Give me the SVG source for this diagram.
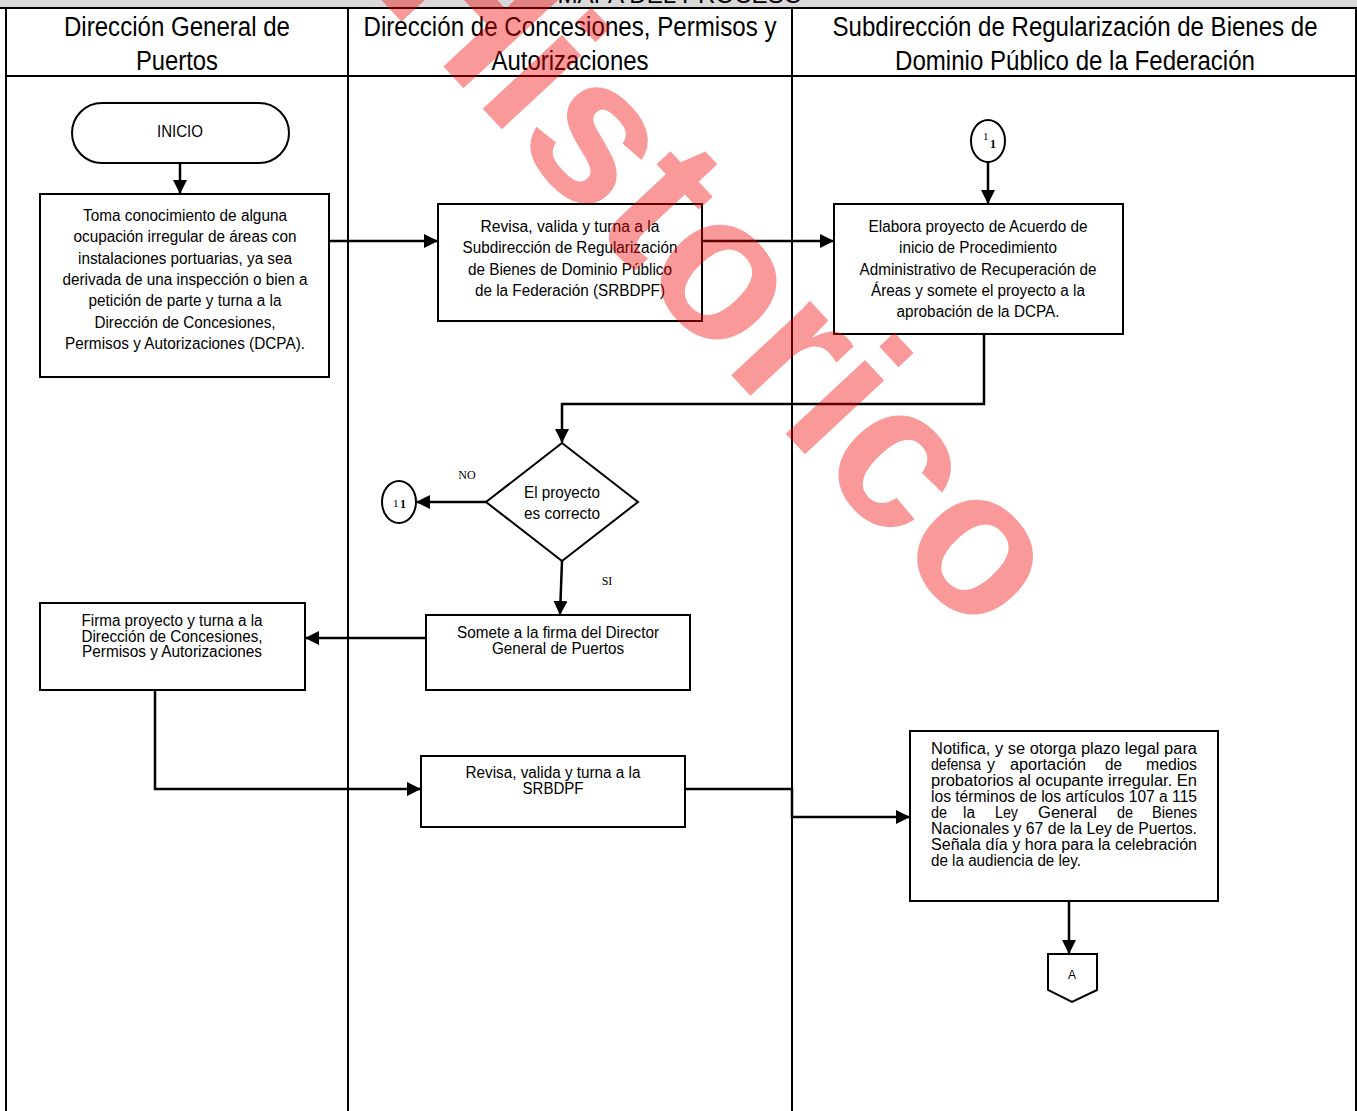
<svg xmlns="http://www.w3.org/2000/svg" width="1357" height="1111" viewBox="0 0 1357 1111">
<defs>
<marker id="arr" markerUnits="userSpaceOnUse" markerWidth="14" markerHeight="14" refX="13" refY="7" orient="auto">
<path d="M0,0 L14,7 L0,14 z" fill="#000"/>
</marker>
<style>
.frame{fill:none;stroke:#000;stroke-width:2}
.box{fill:#fff;stroke:#000;stroke-width:2}
.ln{fill:none;stroke:#000;stroke-width:2.5}
.hd{font-family:"Liberation Sans",Arial,sans-serif;font-size:27px;fill:#000;text-anchor:middle}
.t{font-family:"Liberation Sans",Arial,sans-serif;font-size:16px;fill:#000;text-anchor:middle}
.tl{font-family:"Liberation Sans",Arial,sans-serif;font-size:16px;fill:#000}
.sf{font-family:"Liberation Serif","Times New Roman",serif;fill:#000}
.wm{font-family:"Liberation Sans",Arial,sans-serif;font-weight:bold;font-size:205px;fill:#f00000;fill-opacity:0.4}
</style>
</defs>
<rect x="0" y="0" width="1357" height="1111" fill="#fff"/>
<g id="header">
<rect x="0" y="0" width="1357" height="8" fill="#d9d9d9"/>
<text class="hd" x="680" y="3" style="font-size:24px" textLength="245" lengthAdjust="spacingAndGlyphs">MAPA DEL PROCESO</text>
<line class="frame" x1="0" y1="8" x2="1357" y2="8"/>
<line class="frame" x1="6" y1="76" x2="1357" y2="76"/>
<line class="frame" x1="6" y1="8" x2="6" y2="1111"/>
<line class="frame" x1="348" y1="8" x2="348" y2="1111"/>
<line class="frame" x1="792" y1="8" x2="792" y2="1111"/>
<line class="frame" x1="1356" y1="8" x2="1356" y2="1111"/>
<text class="hd" x="177" y="36" textLength="226" lengthAdjust="spacingAndGlyphs">Dirección General de</text>
<text class="hd" x="177" y="70" textLength="82" lengthAdjust="spacingAndGlyphs">Puertos</text>
<text class="hd" x="570" y="36" textLength="413" lengthAdjust="spacingAndGlyphs">Dirección de Concesiones, Permisos y</text>
<text class="hd" x="570" y="70" textLength="157" lengthAdjust="spacingAndGlyphs">Autorizaciones</text>
<text class="hd" x="1075" y="36" textLength="485" lengthAdjust="spacingAndGlyphs">Subdirección de Regularización de Bienes de</text>
<text class="hd" x="1075" y="70" textLength="360" lengthAdjust="spacingAndGlyphs">Dominio Público de la Federación</text>
</g>
<g id="connectors">
<line class="ln" x1="180" y1="163" x2="180" y2="193" marker-end="url(#arr)"/>
<line class="ln" x1="329" y1="241" x2="437" y2="241" marker-end="url(#arr)"/>
<line class="ln" x1="702" y1="241" x2="833" y2="241" marker-end="url(#arr)"/>
<line class="ln" x1="988" y1="162" x2="988" y2="203" marker-end="url(#arr)"/>
<polyline class="ln" points="984,334 984,404 562,404 562,442" marker-end="url(#arr)"/>
<line class="ln" x1="486" y1="502" x2="417" y2="502" marker-end="url(#arr)"/>
<line class="ln" x1="562" y1="561" x2="560" y2="614" marker-end="url(#arr)"/>
<line class="ln" x1="426" y1="638" x2="306" y2="638" marker-end="url(#arr)"/>
<polyline class="ln" points="155,690 155,789 420,789" marker-end="url(#arr)"/>
<polyline class="ln" points="685,789 792,789 792,817 909,817" marker-end="url(#arr)"/>
<line class="ln" x1="1069" y1="901" x2="1069" y2="953" marker-end="url(#arr)"/>
<text class="sf" x="467" y="479" font-size="12" text-anchor="middle">NO</text>
<text class="sf" x="607" y="585" font-size="12" text-anchor="middle">SI</text>
</g>
<g id="inicio">
<rect class="box" x="72" y="103" width="217" height="60" rx="30" ry="30"/>
<text class="t" x="180" y="137" textLength="46" lengthAdjust="spacingAndGlyphs">INICIO</text>
</g>
<g id="toma">
<rect class="box" x="40" y="194" width="289" height="183"/>
<text class="t" x="185" y="221" textLength="204" lengthAdjust="spacingAndGlyphs">Toma conocimiento de alguna</text>
<text class="t" x="185" y="242" textLength="223" lengthAdjust="spacingAndGlyphs">ocupación irregular de áreas con</text>
<text class="t" x="185" y="264" textLength="214" lengthAdjust="spacingAndGlyphs">instalaciones portuarias, ya sea</text>
<text class="t" x="185" y="285" textLength="245" lengthAdjust="spacingAndGlyphs">derivada de una inspección o bien a</text>
<text class="t" x="185" y="306" textLength="193" lengthAdjust="spacingAndGlyphs">petición de parte y turna a la</text>
<text class="t" x="185" y="328" textLength="181" lengthAdjust="spacingAndGlyphs">Dirección de Concesiones,</text>
<text class="t" x="185" y="349" textLength="240" lengthAdjust="spacingAndGlyphs">Permisos y Autorizaciones (DCPA).</text>
</g>
<g id="revisa1">
<rect class="box" x="438" y="204" width="264" height="117"/>
<text class="t" x="570" y="232" textLength="179" lengthAdjust="spacingAndGlyphs">Revisa, valida y  turna a la</text>
<text class="t" x="570" y="253" textLength="215" lengthAdjust="spacingAndGlyphs">Subdirección de Regularización</text>
<text class="t" x="570" y="275" textLength="204" lengthAdjust="spacingAndGlyphs">de Bienes de Dominio Público</text>
<text class="t" x="570" y="296" textLength="190" lengthAdjust="spacingAndGlyphs">de la Federación (SRBDPF)</text>
</g>
<g id="elabora">
<rect class="box" x="834" y="204" width="289" height="130"/>
<text class="t" x="978" y="232" textLength="219" lengthAdjust="spacingAndGlyphs">Elabora proyecto de Acuerdo de</text>
<text class="t" x="978" y="253" textLength="158" lengthAdjust="spacingAndGlyphs">inicio de Procedimiento</text>
<text class="t" x="978" y="275" textLength="237" lengthAdjust="spacingAndGlyphs">Administrativo de Recuperación de</text>
<text class="t" x="978" y="296" textLength="214" lengthAdjust="spacingAndGlyphs">Áreas y somete el proyecto a la</text>
<text class="t" x="978" y="317" textLength="163" lengthAdjust="spacingAndGlyphs">aprobación de la DCPA.</text>
</g>
<g id="conector-1-top">
<ellipse class="box" cx="988" cy="141" rx="17" ry="21"/>
<text class="sf" x="983" y="140" font-size="11">1</text>
<text class="sf" x="990" y="148" font-size="12" font-weight="bold">1</text>
</g>
<g id="decision">
<polygon class="box" points="562,443 638,502 562,561 486,502"/>
<text class="t" x="562" y="498" textLength="76" lengthAdjust="spacingAndGlyphs">El proyecto</text>
<text class="t" x="562" y="519" textLength="76" lengthAdjust="spacingAndGlyphs">es correcto</text>
</g>
<g id="conector-1-left">
<ellipse class="box" cx="399" cy="502" rx="17" ry="21"/>
<text class="sf" x="393" y="507" font-size="11">1</text>
<text class="sf" x="400" y="508" font-size="12" font-weight="bold">1</text>
</g>
<g id="somete">
<rect class="box" x="426" y="615" width="264" height="75"/>
<text class="t" x="558" y="638" textLength="202" lengthAdjust="spacingAndGlyphs">Somete a la firma del Director</text>
<text class="t" x="558" y="654" textLength="132" lengthAdjust="spacingAndGlyphs">General de Puertos</text>
</g>
<g id="firma">
<rect class="box" x="40" y="603" width="265" height="87"/>
<text class="t" x="172" y="626" textLength="181" lengthAdjust="spacingAndGlyphs">Firma proyecto y turna a la</text>
<text class="t" x="172" y="642" textLength="181" lengthAdjust="spacingAndGlyphs">Dirección de Concesiones,</text>
<text class="t" x="172" y="657" textLength="180" lengthAdjust="spacingAndGlyphs">Permisos y Autorizaciones</text>
</g>
<g id="revisa2">
<rect class="box" x="421" y="756" width="264" height="71"/>
<text class="t" x="553" y="778" textLength="175" lengthAdjust="spacingAndGlyphs">Revisa, valida y turna a la</text>
<text class="t" x="553" y="794" textLength="61" lengthAdjust="spacingAndGlyphs">SRBDPF</text>
</g>
<g id="notifica">
<rect class="box" x="910" y="731" width="308" height="170"/>
<text class="tl" x="931" y="754" textLength="266" lengthAdjust="spacingAndGlyphs">Notifica, y se otorga plazo legal para</text>
<text class="tl" x="931" y="770" textLength="50" lengthAdjust="spacingAndGlyphs">defensa</text>
<text class="tl" x="987" y="770" textLength="8" lengthAdjust="spacingAndGlyphs">y</text>
<text class="tl" x="1010" y="770" textLength="76" lengthAdjust="spacingAndGlyphs">aportación</text>
<text class="tl" x="1105" y="770" textLength="17" lengthAdjust="spacingAndGlyphs">de</text>
<text class="tl" x="1146" y="770" textLength="51" lengthAdjust="spacingAndGlyphs">medios</text>
<text class="tl" x="931" y="786" textLength="266" lengthAdjust="spacingAndGlyphs">probatorios al ocupante irregular. En</text>
<text class="tl" x="931" y="802" textLength="266" lengthAdjust="spacingAndGlyphs">los términos de los artículos 107 a 115</text>
<text class="tl" x="931" y="818" textLength="16" lengthAdjust="spacingAndGlyphs">de</text>
<text class="tl" x="963" y="818" textLength="12" lengthAdjust="spacingAndGlyphs">la</text>
<text class="tl" x="995" y="818" textLength="23" lengthAdjust="spacingAndGlyphs">Ley</text>
<text class="tl" x="1038" y="818" textLength="59" lengthAdjust="spacingAndGlyphs">General</text>
<text class="tl" x="1117" y="818" textLength="16" lengthAdjust="spacingAndGlyphs">de</text>
<text class="tl" x="1152" y="818" textLength="45" lengthAdjust="spacingAndGlyphs">Bienes</text>
<text class="tl" x="931" y="834" textLength="266" lengthAdjust="spacingAndGlyphs">Nacionales y 67 de la Ley de Puertos.</text>
<text class="tl" x="931" y="850" textLength="266" lengthAdjust="spacingAndGlyphs">Señala día y hora para la celebración</text>
<text class="tl" x="931" y="866" textLength="150" lengthAdjust="spacingAndGlyphs">de la audiencia de ley.</text>
</g>
<g id="conector-A">
<polygon class="box" points="1048,954 1097,954 1097,990 1072,1002 1048,990"/>
<text class="t" x="1072" y="979" style="font-size:12px">A</text>
</g>
<g id="watermark">
<text class="wm" transform="translate(372,-10) rotate(47)">Historico</text>
</g>
</svg>
